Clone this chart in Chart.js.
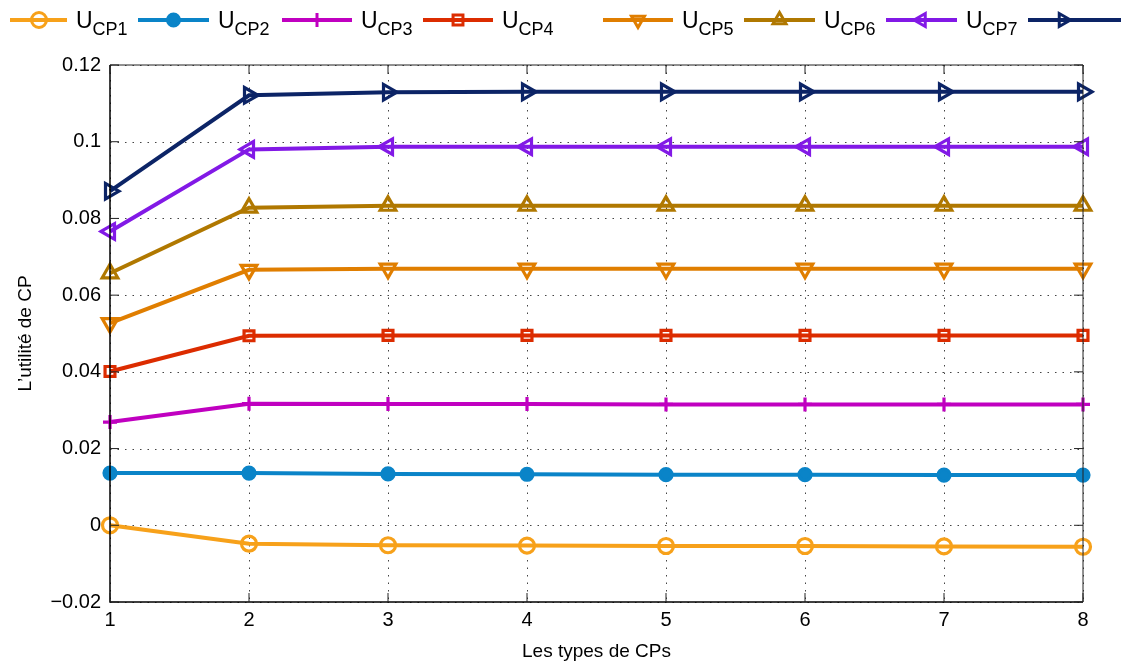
<!DOCTYPE html>
<html>
<head>
<meta charset="utf-8">
<script src="https://cdn.jsdelivr.net/npm/chart.js@4/dist/chart.umd.min.js"></script>
<style>
  html, body { margin: 0; padding: 0; background: #fff; }
  #wrap { width: 1121px; height: 663px; }
</style>
</head>
<body>
<div id="wrap"><canvas id="utilChart" width="1121" height="663"></canvas></div>
<script>
// types de CP (axe x)
const cpTypes = [1, 2, 3, 4, 5, 6, 7, 8];

// utilité de chaque CP
const uCP1 = [0.0000, -0.0048, -0.0052, -0.0053, -0.0054, -0.0054, -0.0055, -0.0056];
const uCP2 = [0.0136, 0.0136, 0.0134, 0.0133, 0.0132, 0.0132, 0.0131, 0.0131];
const uCP3 = [0.0269, 0.0317, 0.0316, 0.0316, 0.0315, 0.0315, 0.0315, 0.0315];
const uCP4 = [0.0401, 0.0494, 0.0495, 0.0495, 0.0495, 0.0495, 0.0495, 0.0495];
const uCP5 = [0.0527, 0.0666, 0.0669, 0.0669, 0.0669, 0.0669, 0.0669, 0.0669];
const uCP6 = [0.0657, 0.0828, 0.0833, 0.0833, 0.0833, 0.0833, 0.0833, 0.0833];
const uCP7 = [0.0766, 0.0980, 0.0987, 0.0987, 0.0987, 0.0987, 0.0987, 0.0987];
const uCP8 = [0.0871, 0.1121, 0.1129, 0.1130, 0.1130, 0.1130, 0.1130, 0.1130];

const seriesNames = ["CP1", "CP2", "CP3", "CP4", "CP5", "CP6", "CP7", "CP8"];
const yTicks = [-0.02, 0, 0.02, 0.04, 0.06, 0.08, 0.1, 0.12];

const styles = [
  { color: "#f7a11a", point: "circle",   rot: 0,   fill: false },
  { color: "#0a84c8", point: "circle",   rot: 0,   fill: true  },
  { color: "#c000c0", point: "cross",    rot: 0,   fill: false },
  { color: "#dc2c00", point: "rect",     rot: 0,   fill: false },
  { color: "#e07e00", point: "triangle", rot: 180, fill: false },
  { color: "#b07800", point: "triangle", rot: 0,   fill: false },
  { color: "#8219e6", point: "triangle", rot: -90, fill: false },
  { color: "#0c2466", point: "triangle", rot: 90,  fill: false }
];

const allSeries = [uCP1, uCP2, uCP3, uCP4, uCP5, uCP6, uCP7, uCP8];
const FONT = "'Liberation Sans', Arial, Helvetica, sans-serif";

function markerRadius(i) {
  if (styles[i].point === "rect") return 7;
  if (styles[i].point === "circle") return styles[i].fill ? 6 : 7.5;
  if (styles[i].point === "cross") return 7;
  return 9;
}

const datasets = allSeries.map((vals, i) => ({
  label: "U" + seriesNames[i],
  data: vals.map((v, k) => ({ x: cpTypes[k], y: v })),
  borderColor: styles[i].color,
  backgroundColor: styles[i].fill ? styles[i].color : "rgba(0,0,0,0)",
  pointBorderColor: styles[i].color,
  pointBackgroundColor: styles[i].fill ? styles[i].color : "rgba(0,0,0,0)",
  borderWidth: 4,
  pointStyle: styles[i].point,
  rotation: styles[i].rot,
  pointRadius: markerRadius(i),
  pointBorderWidth: 3.2,
  tension: 0,
  clip: false
}));

// grille pointillée, cadre, graduations internes et légende
const framePlugin = {
  id: "frame",
  beforeDatasetsDraw(chart) {
    const ctx = chart.ctx;
    const a = chart.chartArea;
    const xs = chart.scales.x, ys = chart.scales.y;
    ctx.save();
    ctx.strokeStyle = "#444";
    ctx.lineWidth = 1;
    ctx.setLineDash([1.5, 6]);
    ctx.beginPath();
    yTicks.forEach(v => {
      const py = Math.round(ys.getPixelForValue(v)) + 0.5;
      ctx.moveTo(a.left, py); ctx.lineTo(a.right, py);
    });
    cpTypes.forEach(v => {
      const px = Math.round(xs.getPixelForValue(v)) + 0.5;
      ctx.moveTo(px, a.top); ctx.lineTo(px, a.bottom);
    });
    ctx.stroke();
    ctx.restore();
  },
  afterDatasetsDraw(chart) {
    const ctx = chart.ctx;
    const a = chart.chartArea;
    const xs = chart.scales.x, ys = chart.scales.y;
    ctx.save();
    ctx.strokeStyle = "#000";
    ctx.lineWidth = 1.5;
    ctx.beginPath();
    ctx.moveTo(a.left, a.top); ctx.lineTo(a.left, a.bottom); ctx.lineTo(a.right, a.bottom);
    ctx.stroke();
    ctx.lineWidth = 1;
    ctx.strokeStyle = "#222";
    ctx.beginPath();
    ctx.moveTo(a.left, a.top); ctx.lineTo(a.right, a.top); ctx.lineTo(a.right, a.bottom);
    ctx.stroke();
    const tl = 9;
    ctx.beginPath();
    yTicks.forEach(v => {
      const py = ys.getPixelForValue(v);
      ctx.moveTo(a.left, py); ctx.lineTo(a.left + tl, py);
      ctx.moveTo(a.right, py); ctx.lineTo(a.right - tl, py);
    });
    cpTypes.forEach(v => {
      const px = xs.getPixelForValue(v);
      ctx.moveTo(px, a.bottom); ctx.lineTo(px, a.bottom - tl);
      ctx.moveTo(px, a.top); ctx.lineTo(px, a.top + tl);
    });
    ctx.stroke();
    ctx.restore();
  },
  afterDraw(chart) {
    const ctx = chart.ctx;
    const starts = [10, 138, 282, 423, 603, 744, 886, 1028];
    const ends   = [67, 209, 352, 493, 673, 815, 957, 1121];
    const ly = 20;
    ctx.save();
    chart.data.datasets.forEach((ds, i) => {
      const x0 = starts[i], x1 = ends[i];
      ctx.strokeStyle = ds.borderColor;
      ctx.lineWidth = 4;
      ctx.beginPath(); ctx.moveTo(x0, ly); ctx.lineTo(x1, ly); ctx.stroke();
      ctx.fillStyle = ds.pointBackgroundColor;
      ctx.strokeStyle = ds.pointBorderColor;
      ctx.lineWidth = 3;
      let mx = (x0 + x1) / 2;
      if (i === 0) mx = 39;
      if (i === 7) mx = 1063;
      Chart.helpers.drawPoint(ctx, {
        pointStyle: ds.pointStyle,
        rotation: ds.rotation,
        radius: Math.min(ds.pointRadius, 7.5),
        borderWidth: 3
      }, mx, ly);
      ctx.fillStyle = "#000";
      ctx.textBaseline = "alphabetic";
      ctx.textAlign = "left";
      ctx.font = "23px " + FONT;
      ctx.fillText("U", x1 + 9, ly + 8);
      const uw = ctx.measureText("U").width;
      ctx.font = "18px " + FONT;
      ctx.fillText(seriesNames[i], x1 + 9 + uw, ly + 15);
    });
    ctx.restore();
  }
};

const chart = new Chart(document.getElementById("utilChart"), {
  type: "line",
  data: { datasets: datasets },
  options: {
    responsive: false,
    animation: false,
    layout: { padding: { top: 65, right: 38, left: 0, bottom: 0 } },
    plugins: { legend: { display: false }, tooltip: { enabled: false } },
    scales: {
      x: {
        type: "linear",
        min: 1, max: 8,
        afterBuildTicks(scale) { scale.ticks = cpTypes.map(v => ({ value: v })); },
        ticks: { color: "#000", font: { family: FONT, size: 20 }, padding: 6 },
        grid: { display: false, drawTicks: false },
        border: { display: false },
        title: { display: true, text: "Les types de CPs", color: "#000",
                 font: { family: FONT, size: 19 }, padding: { top: 0, bottom: 0 } },
        afterFit(scale) { scale.height = 61; }
      },
      y: {
        min: -0.02, max: 0.12,
        afterBuildTicks(scale) { scale.ticks = yTicks.map(v => ({ value: v })); },
        ticks: {
          color: "#000", font: { family: FONT, size: 20 }, padding: 9,
          callback: v => (Math.round(v * 1000) / 1000).toString().replace("-", "\u2212")
        },
        grid: { display: false, drawTicks: false },
        border: { display: false },
        title: { display: true, text: "L\u2019utilit\u00e9 de CP", color: "#000",
                 font: { family: FONT, size: 19 }, padding: { top: 14, bottom: 0 } },
        afterFit(scale) { scale.width = 110; }
      }
    }
  },
  plugins: [framePlugin]
});
</script>
</body>
</html>
